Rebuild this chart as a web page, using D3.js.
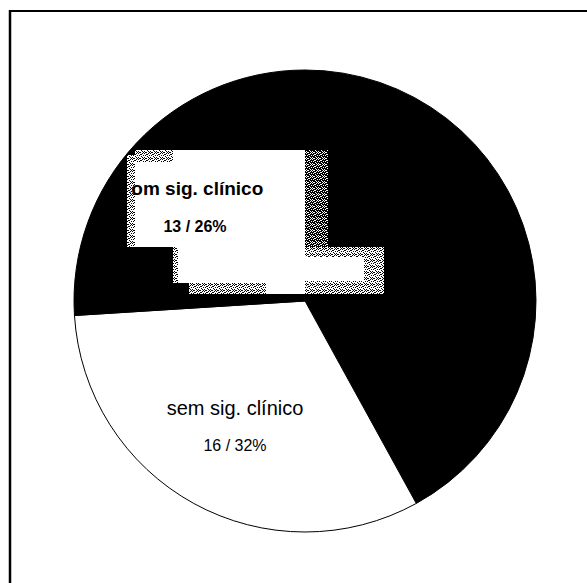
<!DOCTYPE html>
<html>
<meta charset="utf-8">
<style>
body { margin: 0; background: #fff; }
text { font-family: "Liberation Sans", Arial, sans-serif; fill: #000; }
</style>
<body>
<script src="https://d3js.org/d3.v7.min.js"></script>
<script>
// data (slices clockwise from 12 o'clock)
var categories = ["(sem rótulo)", "sem sig. clínico", "com sig. clínico"];
var counts = [21, 16, 13];
var percents = [42, 32, 26];
var showLabel = [false, true, true];

var width = 587, height = 583;
var cx = 305, cy = 301, radius = 231;

var svg = d3.select("body").append("svg")
    .attr("width", width)
    .attr("height", height);

// dither patterns to mimic the scan noise round the label box
var defs = svg.append("defs");
var dots = [[0,0],[2,1],[4,0],[1,2],[3,3],[5,2],[0,4],[2,5],[4,4],[5,5],[1,5],[3,1]];
function dither(id, bg, fg) {
  var p = defs.append("pattern").attr("id", id)
      .attr("width", 6).attr("height", 6).attr("patternUnits", "userSpaceOnUse");
  p.append("rect").attr("width", 6).attr("height", 6).attr("fill", bg);
  p.selectAll("rect.d").data(dots).enter().append("rect")
      .attr("class", "d")
      .attr("x", function(d) { return d[0]; }).attr("y", function(d) { return d[1]; })
      .attr("width", 1).attr("height", 1).attr("fill", fg);
}
dither("noiseLight", "#fff", "#000");
dither("noiseDark", "#000", "#fff");

// frame (only top and left edges survived)
svg.append("line").attr("x1", 9).attr("x2", width).attr("y1", 11).attr("y2", 11)
    .attr("stroke", "#000").attr("stroke-width", 2);
svg.append("line").attr("x1", 10).attr("x2", 10).attr("y1", 10).attr("y2", height)
    .attr("stroke", "#000").attr("stroke-width", 2.5);

var data = categories.map(function(c, i) {
  return {name: c, count: counts[i], pct: percents[i], show: showLabel[i]};
});

var pie = d3.pie().sort(null).value(function(d) { return d.count; });
var arc = d3.arc().innerRadius(0).outerRadius(radius);
var labelArc = d3.arc().innerRadius(150).outerRadius(150);
var color = d3.scaleOrdinal().domain(categories).range(["#000", "#fff", "#000"]);

var g = svg.append("g").attr("transform", "translate(" + cx + "," + cy + ")");
var arcs = pie(data);

g.selectAll("path.slice")
    .data(arcs)
  .enter().append("path")
    .attr("class", "slice")
    .attr("d", arc)
    .attr("fill", function(d) { return color(d.data.name); })
    .attr("stroke", "#000")
    .attr("stroke-width", 1);

// label anchors from the arc centroids; the boxed label was moved a bit in the original
var nudge = {"sem sig. clínico": [2, -17], "com sig. clínico": [-4, -3]};
arcs.forEach(function(d) {
  var c = labelArc.centroid(d), n = nudge[d.data.name] || [0, 0];
  d.lx = Math.round(c[0] + n[0]);
  d.ly = Math.round(c[1] + n[1]);
});

// white box with noisy edges behind "com sig. clínico"
var boxed = arcs[2];
var boxShapes = [
  ["noiseLight", -65, -40, 8, 92],
  ["noiseLight", -57, -45, 38, 12],
  ["#fff", -57, -33, 170, 85],
  ["#fff", -19, -45, 132, 12],
  ["#fff", -19, 52, 132, 36],
  ["noiseLight", -19, 52, 5, 36],
  ["noiseLight", -3, 88, 77, 11],
  ["#fff", 74, 88, 39, 11],
  ["noiseDark", 113, -45, 23, 97],
  ["noiseLight", 113, 52, 79, 47],
  ["#fff", 113, 62, 59, 24]
];
var box = g.append("g")
    .attr("transform", "translate(" + boxed.lx + "," + boxed.ly + ")")
    .attr("shape-rendering", "crispEdges");
box.selectAll("rect")
    .data(boxShapes)
  .enter().append("rect")
    .attr("x", function(d) { return d[1]; })
    .attr("y", function(d) { return d[2]; })
    .attr("width", function(d) { return d[3]; })
    .attr("height", function(d) { return d[4]; })
    .attr("fill", function(d) { return d[0].charAt(0) === "#" ? d[0] : "url(#" + d[0] + ")"; });

// the first letter of the boxed label is lost in the black, as in the original
defs.append("clipPath").attr("id", "boxClip")
  .append("rect").attr("x", -62).attr("y", -60).attr("width", 300).attr("height", 160);

var labels = g.selectAll("g.label")
    .data(arcs.filter(function(d) { return d.data.show; }))
  .enter().append("g")
    .attr("class", "label")
    .attr("transform", function(d) { return "translate(" + d.lx + "," + d.ly + ")"; });

labels.append("text")
    .attr("text-anchor", "middle")
    .attr("clip-path", function(d) { return d === boxed ? "url(#boxClip)" : null; })
    .style("font-size", function(d) { return d === boxed ? "19px" : "20px"; })
    .style("font-weight", function(d) { return d === boxed ? "bold" : "normal"; })
    .text(function(d) { return d.data.name; });

labels.append("text")
    .attr("text-anchor", "middle")
    .attr("x", function(d) { return d === boxed ? 3 : 0; })
    .attr("y", function(d) { return d === boxed ? 37 : 36; })
    .style("font-size", "16px")
    .style("font-weight", function(d) { return d === boxed ? "bold" : "normal"; })
    .text(function(d) { return d.data.count + " / " + d.data.pct + "%"; });
</script>
</body>
</html>
